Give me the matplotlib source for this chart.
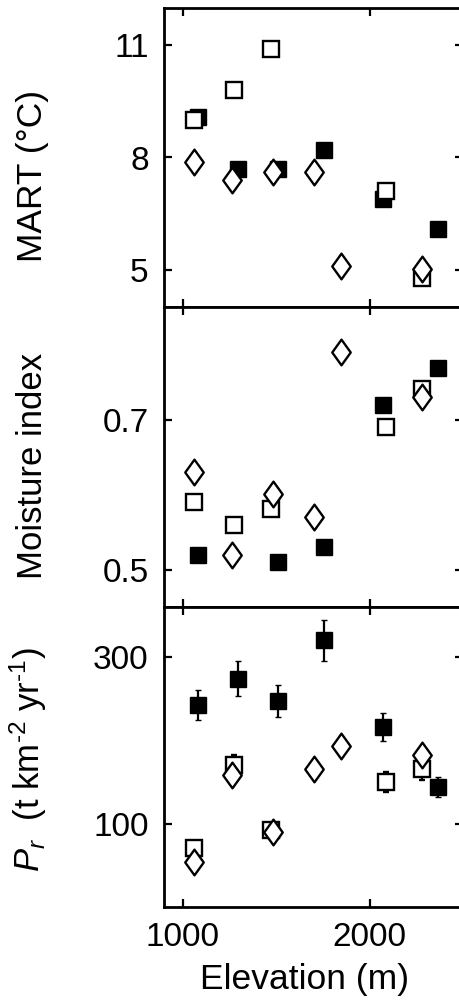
import matplotlib
matplotlib.use("Agg")
import matplotlib.pyplot as plt
import numpy as np
from matplotlib.path import Path

plt.rcParams['font.family'] = ['Liberation Sans', 'DejaVu Sans']
plt.rcParams['mathtext.fontset'] = 'custom'
plt.rcParams['mathtext.rm'] = 'Liberation Sans'
plt.rcParams['mathtext.it'] = 'Liberation Sans:italic'
plt.rcParams['mathtext.sf'] = 'Liberation Sans'

# ---- data ----
elev_filled = [1083, 1294, 1509, 1754, 2071, 2365]
elev_open = [1060, 1274, 1470, 2089, 2281]
elev_diam = [1060, 1262, 1484, 1703, 1849, 2281]

mart_filled = [9.09, 7.69, 7.69, 8.20, 6.90, 6.10]
mart_open = [9.00, 9.80, 10.89, 7.10, 4.78]
mart_diam = [7.89, 7.39, 7.60, 7.60, 5.09, 5.02]

moist_filled = [0.520, 0.510, 0.530, 0.719, 0.769]
elev_moist_filled = [1083, 1509, 1754, 2071, 2365]
moist_open = [0.590, 0.559, 0.580, 0.690, 0.740]
moist_diam = [0.630, 0.520, 0.600, 0.570, 0.790, 0.730]

pr_filled = [242, 274, 247, 320, 216, 144]
pr_filled_err = [18, 21, 19, 25, 17, 12]
pr_open = [71, 171, 93, 150, 166]
pr_open_err = [5, 12, 5, 12, 13]
pr_diam = [54, 158, 90, 166, 193, 183]

xticks = [1000, 2000]
mart_ticks = [5, 8, 11]
moist_ticks = [0.5, 0.7]
pr_ticks = [100, 300]

# ---- style ----
diamond = Path([(0, 1), (0.72, 0), (0, -1), (-0.72, 0), (0, 1)],
               [Path.MOVETO, Path.LINETO, Path.LINETO, Path.LINETO, Path.CLOSEPOLY])
sq_f = dict(marker='s', ms=11.5, mfc='black', mec='black', mew=1.0, ls='none', zorder=3)
sq_o = dict(marker='s', ms=11, mfc='white', mec='black', mew=1.7, ls='none', zorder=4)
dm = dict(marker=diamond, ms=18.5, mfc='white', mec='black', mew=1.7, ls='none', zorder=5)
eb = dict(ecolor='black', elinewidth=1.6, capsize=2.2, capthick=1.6)

fig = plt.figure(figsize=(4.59, 10.05), dpi=100)
L, W = 164 / 459, 299 / 459
H = 300 / 1005
ax1 = fig.add_axes([L, 1 - 307 / 1005, W, 299 / 1005])
ax2 = fig.add_axes([L, 1 - 607 / 1005, W, H])
ax3 = fig.add_axes([L, 1 - 907 / 1005, W, H])

ax1.plot(elev_filled, mart_filled, **sq_f)
ax1.plot(elev_open, mart_open, **sq_o)
ax1.plot(elev_diam, mart_diam, **dm)
ax1.set_ylim(4, 12)
ax1.set_yticks(mart_ticks)
ax1.set_ylabel('MART (°C)', fontsize=25.5)
ax1.yaxis.set_label_coords(-0.385, 0.44)

ax2.plot(elev_moist_filled, moist_filled, **sq_f)
ax2.plot(elev_open, moist_open, **sq_o)
ax2.plot(elev_diam, moist_diam, **dm)
ax2.set_ylim(0.45, 0.85)
ax2.set_yticks(moist_ticks)
ax2.set_yticklabels(['0.5', '0.7'])
ax2.set_ylabel('Moisture index', fontsize=25)
ax2.yaxis.set_label_coords(-0.385, 0.47)

ax3.errorbar(elev_filled, pr_filled, yerr=pr_filled_err, **sq_f, **eb)
ax3.errorbar(elev_open, pr_open, yerr=pr_open_err, **sq_o, **eb)
ax3.plot(elev_diam, pr_diam, **dm)
ax3.set_ylim(0, 360)
ax3.set_yticks(pr_ticks)
ax3.set_ylabel(r'$P_r$  (t km$^{\text{-2}}$ yr$^{\text{-1}}$)', fontsize=25)
ax3.yaxis.set_label_coords(-0.385, 0.49)
ax3.set_xlabel('Elevation (m)', fontsize=25.5)
ax3.xaxis.set_label_coords(0.47, -0.185)

for ax in (ax1, ax2, ax3):
    ax.set_xlim(900, 2500)
    ax.set_xticks(xticks)
    ax.tick_params(direction='in', length=6, width=1.6, top=True, right=True,
                   labelsize=24, pad=11)
    for s in ax.spines.values():
        s.set_linewidth(2.0)
ax1.tick_params(labelbottom=False)
ax2.tick_params(labelbottom=False)
ax3.tick_params(axis='x', pad=11)

fig.savefig('out.png', dpi=100)
